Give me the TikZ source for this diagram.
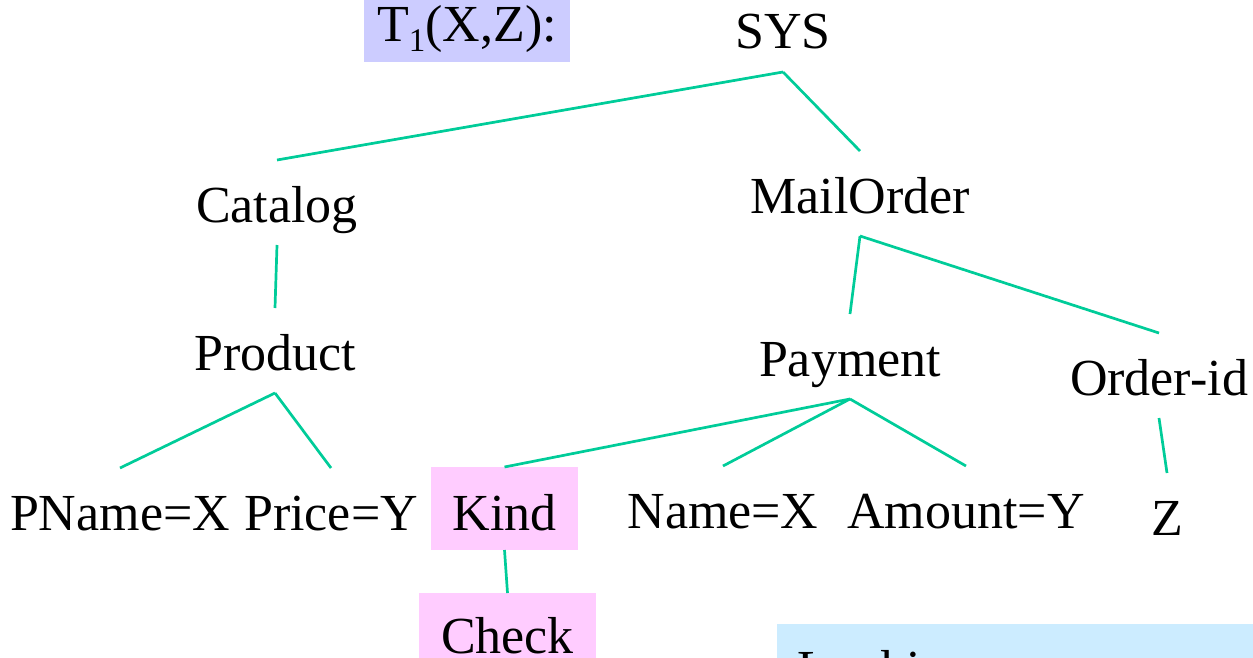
\documentclass[tikz,border=0pt]{standalone}
\usepackage{fontspec}
\setmainfont{Liberation Serif}
\definecolor{linegreen}{RGB}{0,204,153}
\definecolor{lavender}{RGB}{204,204,255}
\definecolor{softpink}{RGB}{255,204,255}
\definecolor{skyblue}{RGB}{204,236,255}
\tikzset{
  lbl/.style={font=\fontsize{52}{60}\selectfont, inner sep=0pt, outer sep=0pt,
              text height=62pt, text depth=23pt, anchor=base},
  link/.style={draw=linegreen, line width=2.7pt},
}
\begin{document}
\begin{tikzpicture}[x=1pt, y=-1pt]
\useasboundingbox (0,0) rectangle (1253,658);

% query label
\node[fill=lavender, minimum width=206pt, minimum height=62pt, inner sep=0pt,
      text height=36pt, text depth=14pt, font=\fontsize{52}{60}\selectfont]
  (title) at (467,31) {T\raisebox{-10pt}{\fontsize{33}{33}\selectfont 1}(X,Z):};

% tree nodes
\node[lbl] (sys)   at (783,49)  {SYS};
\node[lbl] (cat)   at (277,222) {Catalog};
\node[lbl] (mail)  at (860,213) {MailOrder};
\node[lbl] (prod)  at (275,370) {Product};
\node[lbl] (pay)   at (850,376) {Payment};
\node[lbl] (oid)   at (1159,395) {Order-id};
\node[lbl] (pname) at (120,530) {PName=X};
\node[lbl] (price) at (331,530) {Price=Y};
\node[lbl, fill=softpink, minimum width=147pt, text height=63pt, text depth=20pt]
  (kind) at (504.5,530) {Kind};
\node[lbl] (name)  at (723,528) {Name=X};
\node[lbl] (amt)   at (966,528) {Amount=Y};
\node[lbl] (z)     at (1167,535) {Z};
\node[lbl, fill=softpink, minimum width=177pt, text height=60pt, text depth=30pt]
  (check) at (507.5,653) {Check};

% note box at the lower right
\node[fill=skyblue, anchor=north west, inner sep=0pt, outer sep=0pt,
      minimum width=500pt, minimum height=120pt] (note) at (777,624) {};
\node[font=\fontsize{52}{60}\selectfont, inner sep=0pt, anchor=base west]
  (notetext) at (797,686) {Looking};

% connectors
\draw[link] (sys.south) -- (cat.north);
\draw[link] (sys.south) -- (mail.north);
\draw[link] (cat.south) -- (prod.north);
\draw[link] (prod.south) -- (pname.north);
\draw[link] (prod.south) -- (price.north);
\draw[link] (mail.south) -- (pay.north);
\draw[link] (mail.south) -- (oid.north);
\draw[link] (pay.south) -- (kind.north);
\draw[link] (pay.south) -- (name.north);
\draw[link] (pay.south) -- (amt.north);
\draw[link] (oid.south) -- (z.north);
\draw[link] (kind.south) -- (check.north);
\end{tikzpicture}
\end{document}
